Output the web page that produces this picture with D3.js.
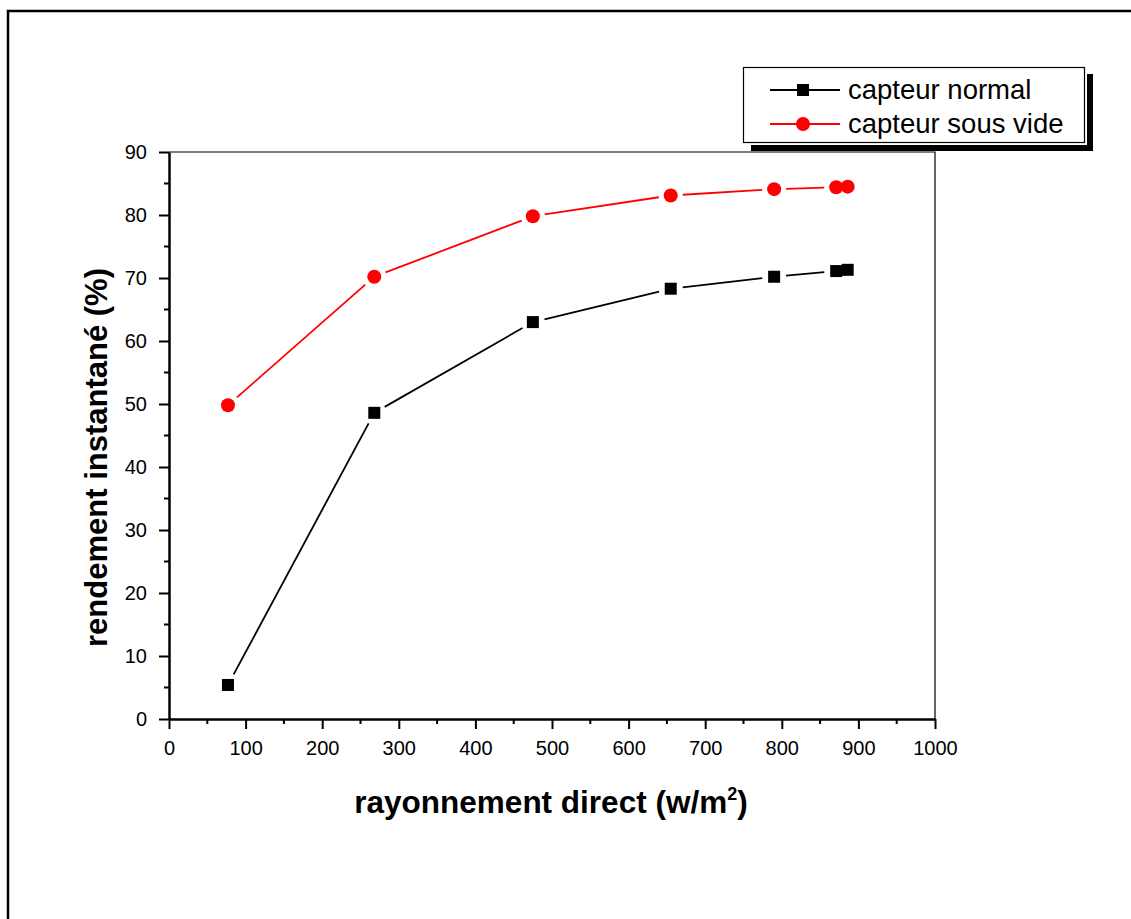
<!DOCTYPE html>
<html>
<head>
<meta charset="utf-8">
<script src="https://cdn.jsdelivr.net/npm/d3@7"></script>
<style>
  body { margin: 0; background: #fff; }
  svg { display: block; font-family: "Liberation Sans", Arial, sans-serif; }
</style>
</head>
<body>
<div id="chart"></div>
<script>
// data
const rayonnement = [77, 268, 475, 655, 790, 871, 886];
const normal = [5.4, 48.6, 63.0, 68.3, 70.2, 71.1, 71.3];
const sousVide = [49.8, 70.2, 79.8, 83.1, 84.1, 84.4, 84.5];
const seriesNames = ["capteur normal", "capteur sous vide"];
const xTicks = [0, 100, 200, 300, 400, 500, 600, 700, 800, 900, 1000];
const yTicks = [0, 10, 20, 30, 40, 50, 60, 70, 80, 90];

const width = 1131, height = 919;
const margin = { top: 152, right: 196, bottom: 200, left: 169 };

const svg = d3.select("#chart").append("svg")
    .attr("width", width)
    .attr("height", height);

// outer frame (left + top only visible)
svg.append("path")
    .attr("d", `M8,${height} V11 H${width}`)
    .attr("fill", "none")
    .attr("stroke", "#000")
    .attr("stroke-width", 2.5);

const x = d3.scaleLinear().domain([0, 1000]).range([margin.left, width - margin.right]);
const y = d3.scaleLinear().domain([0, 90]).range([height - margin.bottom, margin.top]);

// thin top/right frame of the plot
svg.append("path")
    .attr("d", `M${x(0)},${y(90)} H${x(1000)} V${y(0)}`)
    .attr("fill", "none")
    .attr("stroke", "#000")
    .attr("stroke-width", 1.2);

// minor ticks
const xMinor = d3.range(50, 1000, 100);
const yMinor = d3.range(5, 90, 10);
svg.append("g").selectAll("line").data(xMinor).join("line")
    .attr("x1", d => x(d)).attr("x2", d => x(d))
    .attr("y1", y(0)).attr("y2", y(0) + 5)
    .attr("stroke", "#000").attr("stroke-width", 2);
svg.append("g").selectAll("line").data(yMinor).join("line")
    .attr("y1", d => y(d)).attr("y2", d => y(d))
    .attr("x1", x(0)).attr("x2", x(0) - 5)
    .attr("stroke", "#000").attr("stroke-width", 2);

// axes
const xAxis = svg.append("g")
    .attr("transform", `translate(0,${y(0)})`)
    .call(d3.axisBottom(x).tickValues(xTicks).tickFormat(d3.format("d"))
        .tickSize(10).tickSizeOuter(0).tickPadding(12));
const yAxis = svg.append("g")
    .attr("transform", `translate(${x(0)},0)`)
    .call(d3.axisLeft(y).tickValues(yTicks).tickFormat(d3.format("d"))
        .tickSize(10).tickSizeOuter(0).tickPadding(12));

[xAxis, yAxis].forEach(a => {
    a.attr("font-size", 20).attr("font-family", "Liberation Sans, Arial, sans-serif");
    a.select(".domain").attr("stroke-width", 2.5);
    a.selectAll(".tick line").attr("stroke-width", 2);
    a.selectAll("text").attr("fill", "#000");
});

// axis titles
const xTitle = svg.append("text")
    .attr("x", 551).attr("y", 813)
    .attr("text-anchor", "middle")
    .attr("font-size", 31.5).attr("font-weight", "bold");
xTitle.append("tspan").text("rayonnement direct (w/m");
xTitle.append("tspan").attr("font-size", 18).attr("dy", -13).text("2");
xTitle.append("tspan").attr("dy", 13).text(")");

svg.append("text")
    .attr("transform", `translate(107,${(y(0) + y(90)) / 2 + 22}) rotate(-90)`)
    .attr("text-anchor", "middle")
    .attr("font-size", 31).attr("font-weight", "bold")
    .text("rendement instantané (%)");

// series lines with a small gap at each marker
function drawSeries(values, color, gap) {
    const pts = rayonnement.map((r, i) => [x(r), y(values[i])]);
    const segs = d3.pairs(pts).map(([a, b]) => {
        const dx = b[0] - a[0], dy = b[1] - a[1];
        const len = Math.hypot(dx, dy);
        if (len <= 2 * gap) return null;
        const ux = dx / len, uy = dy / len;
        return [a[0] + ux * gap, a[1] + uy * gap, b[0] - ux * gap, b[1] - uy * gap];
    }).filter(s => s);
    svg.append("g").selectAll("line").data(segs).join("line")
        .attr("x1", d => d[0]).attr("y1", d => d[1])
        .attr("x2", d => d[2]).attr("y2", d => d[3])
        .attr("stroke", color).attr("stroke-width", 1.8);
    return pts;
}

const ptsN = drawSeries(normal, "#000", 12);
const ptsV = drawSeries(sousVide, "#f00", 12);

svg.append("g").selectAll("rect").data(ptsN).join("rect")
    .attr("x", d => d[0] - 6).attr("y", d => d[1] - 6)
    .attr("width", 12).attr("height", 12)
    .attr("fill", "#000");
svg.append("g").selectAll("circle").data(ptsV).join("circle")
    .attr("cx", d => d[0]).attr("cy", d => d[1])
    .attr("r", 7).attr("fill", "#f00");

// legend with detached shadow
const lg = svg.append("g");
lg.append("rect").attr("x", 751).attr("y", 74).attr("width", 342).attr("height", 77).attr("fill", "#000");
lg.append("rect").attr("x", 742).attr("y", 66).attr("width", 345).attr("height", 79).attr("fill", "#fff");
lg.append("rect").attr("x", 743.5).attr("y", 67.5).attr("width", 341).attr("height", 75)
    .attr("fill", "#fff").attr("stroke", "#000").attr("stroke-width", 1.2);
const rows = [
    { name: seriesNames[0], color: "#000", shape: "square", cy: 90 },
    { name: seriesNames[1], color: "#f00", shape: "circle", cy: 124 }
];
rows.forEach(r => {
    lg.append("line").attr("x1", 770).attr("x2", 840).attr("y1", r.cy).attr("y2", r.cy)
        .attr("stroke", r.color).attr("stroke-width", 1.8);
    if (r.shape === "square") {
        lg.append("rect").attr("x", 797).attr("y", r.cy - 6).attr("width", 12).attr("height", 12).attr("fill", r.color);
    } else {
        lg.append("circle").attr("cx", 803).attr("cy", r.cy).attr("r", 7).attr("fill", r.color);
    }
    lg.append("text").attr("x", 848).attr("y", r.cy + 9)
        .attr("font-size", 27.5).text(r.name);
});
</script>
</body>
</html>
